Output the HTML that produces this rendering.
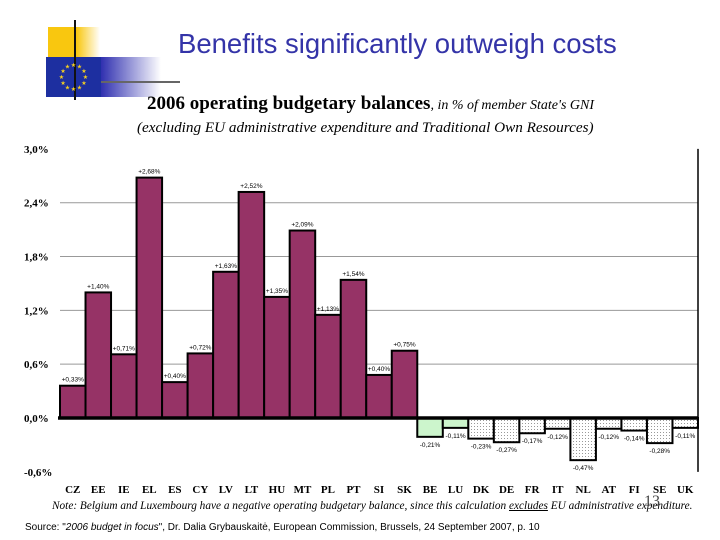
<!DOCTYPE html>
<html><head><meta charset="utf-8"><style>
body{margin:0;width:720px;height:540px;background:#fff;overflow:hidden;position:relative;font-family:"Liberation Sans",sans-serif}
.abs{position:absolute}
</style></head><body>
<div class="abs" style="left:48px;top:27px;width:52px;height:30px;background:linear-gradient(90deg,#f9c70f 0,#f9c70f 55%,rgba(249,199,15,0) 100%)"></div>
<div class="abs" style="left:101px;top:57px;width:60px;height:40px;background:linear-gradient(90deg,#3030b0,rgba(48,48,176,0))"></div>
<div class="abs" style="left:46px;top:57px;width:55px;height:40px;background:#1d2fa0"></div>
<svg class="abs" style="left:0;top:0" width="720" height="540">
<line x1="75" y1="20" x2="75" y2="100" stroke="#111" stroke-width="2"/>
<line x1="101" y1="82" x2="180" y2="82" stroke="#666" stroke-width="2"/>
<g fill="#f5d020" font-size="6" text-anchor="middle" id="stars"></g>
</svg>
<div class="abs" style="left:178px;top:28px;font-size:27.5px;color:#3434a8;white-space:nowrap">Benefits significantly outweigh costs</div>
<div class="abs" style="left:147px;top:93px;font-family:'Liberation Serif',serif;white-space:nowrap"><b style="font-size:19px">2006 operating budgetary balances</b><i style="font-size:14px">, in % of member State's GNI</i></div>
<div class="abs" style="left:137px;top:119px;font-family:'Liberation Serif',serif;font-style:italic;font-size:15.2px;white-space:nowrap">(excluding EU administrative expenditure and Traditional Own Resources)</div>
<svg class="abs" id="chart" style="left:0;top:0" width="720" height="540"></svg>
<div class="abs" style="left:52px;top:500px;font-family:'Liberation Serif',serif;font-style:italic;font-size:11.3px;white-space:nowrap">Note: Belgium and Luxembourg have a negative operating budgetary balance, since this calculation <u>excludes</u> EU administrative expenditure.</div>
<div class="abs" style="left:644px;top:493px;font-family:'Liberation Serif',serif;font-size:16px;color:#444">13</div>
<div class="abs" style="left:25px;top:522px;font-size:10px;white-space:nowrap">Source: "<i>2006 budget in focus</i>", Dr. Dalia Grybauskaitė, European Commission, Brussels, 24 September 2007, p. 10</div>
<script>
const categories=["CZ","EE","IE","EL","ES","CY","LV","LT","HU","MT","PL","PT","SI","SK","BE","LU","DK","DE","FR","IT","NL","AT","FI","SE","UK"];
const values=[0.36,1.40,0.71,2.68,0.40,0.72,1.63,2.52,1.35,2.09,1.15,1.54,0.48,0.75,-0.21,-0.11,-0.23,-0.27,-0.17,-0.12,-0.47,-0.12,-0.14,-0.28,-0.11];
const valueLabels=["+0,33%","+1,40%","+0,71%","+2,68%","+0,40%","+0,72%","+1,63%","+2,52%","+1,35%","+2,09%","+1,13%","+1,54%","+0,40%","+0,75%","-0,21%","-0,11%","-0,23%","-0,27%","-0,17%","-0,12%","-0,47%","-0,12%","-0,14%","-0,28%","-0,11%"];
const ticks=[3.0,2.4,1.8,1.2,0.6,0.0,-0.6];
const tickLabels=["3,0%","2,4%","1,8%","1,2%","0,6%","0,0%","-0,6%"];
const NS="http://www.w3.org/2000/svg";
const svg=document.getElementById('chart');
const y0=418,pp=89.7,x0=60,bw=25.52;
const Y=v=>y0-v*pp, X=i=>x0+i*bw;
function mk(t,a){const e=document.createElementNS(NS,t);for(const k in a)e.setAttribute(k,a[k]);svg.appendChild(e);return e;}
const defs=mk('defs',{});
defs.innerHTML='<pattern id="dots" width="3" height="3" patternUnits="userSpaceOnUse"><rect width="3" height="3" fill="#fff"/><rect width="1" height="1" fill="#999"/></pattern>';
ticks.forEach((t,i)=>{
 if(t>0&&t<3){const g=mk('line',{x1:60,x2:698,y1:Y(t),y2:Y(t),stroke:'#999','stroke-width':1});
 
 }
 const l=mk('text',{x:24,y:Y(t)+4,'font-family':'Liberation Serif,serif','font-weight':'bold','font-size':11});
 l.textContent=tickLabels[i];
 
 
});
const ax=mk('line',{x1:698,x2:698,y1:Y(3.0),y2:Y(-0.6),stroke:'#000','stroke-width':1.5});


values.forEach((v,i)=>{
 const fill=v>=0?'#963366':(i<16?'#ccf5cc':'url(#dots)');
 const r=mk('rect',{x:X(i),y:Math.min(Y(v),y0),width:bw,height:Math.abs(Y(v)-y0),fill:fill,stroke:'#000','stroke-width':2});
 
 
 const t=mk('text',{x:X(i)+bw/2,y:v>=0?Y(v)-4:Y(v)+10,'font-size':6.5,'text-anchor':'middle'});
 t.textContent=valueLabels[i];
 
 
 const c=mk('text',{x:X(i)+bw/2,y:493,'font-family':'Liberation Serif,serif','font-weight':'bold','font-size':11,'text-anchor':'middle'});
 c.textContent=categories[i];
 
 
});
const zl=mk('line',{x1:58,x2:698,y1:y0,y2:y0,stroke:'#000','stroke-width':3.5});


const st=document.getElementById('stars');
for(let k=0;k<12;k++){const a=k*Math.PI/6;const s=document.createElementNS(NS,'text');s.setAttribute('x',73.5+12*Math.cos(a));s.setAttribute('y',79+12*Math.sin(a));s.textContent='★';st.appendChild(s);}
</script>
</body></html>
